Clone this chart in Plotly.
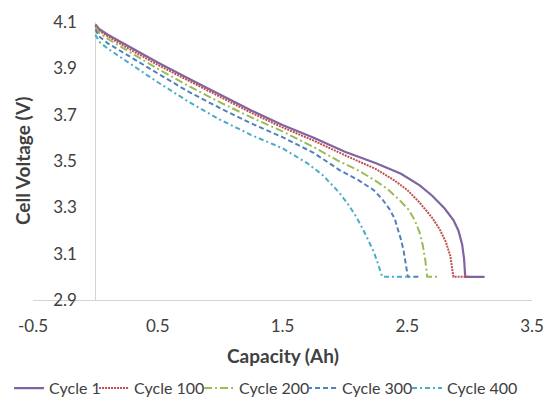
import plotly.graph_objects as go

# ---- data ----
series_names = ["Cycle 1", "Cycle 100", "Cycle 200", "Cycle 300", "Cycle 400"]

cap_c1 = [0, 0.03, 0.1, 0.25, 0.5, 0.75, 1.0, 1.25, 1.5, 1.75, 2.0, 2.25, 2.45, 2.6, 2.7, 2.8, 2.87, 2.91, 2.94, 2.955, 2.965, 3.12]
volt_c1 = [4.09, 4.07, 4.045, 4.0, 3.925, 3.855, 3.785, 3.718, 3.655, 3.6, 3.54, 3.49, 3.445, 3.395, 3.35, 3.295, 3.245, 3.2, 3.14, 3.08, 3.0, 3.0]

cap_c100 = [0, 0.03, 0.1, 0.25, 0.5, 0.75, 1.0, 1.25, 1.5, 1.75, 2.0, 2.25, 2.4, 2.5, 2.6, 2.7, 2.76, 2.81, 2.845, 2.862, 2.87, 2.99]
volt_c100 = [4.085, 4.063, 4.038, 3.99, 3.915, 3.845, 3.775, 3.708, 3.645, 3.588, 3.525, 3.465, 3.415, 3.375, 3.32, 3.255, 3.205, 3.15, 3.09, 3.04, 3.0, 3.0]

cap_c200 = [0, 0.03, 0.1, 0.25, 0.5, 0.75, 1.0, 1.25, 1.5, 1.75, 1.95, 2.1, 2.23, 2.34, 2.44, 2.51, 2.56, 2.6, 2.625, 2.645, 2.66, 2.74]
volt_c200 = [4.078, 4.053, 4.027, 3.978, 3.898, 3.823, 3.753, 3.688, 3.628, 3.56, 3.5, 3.462, 3.42, 3.38, 3.33, 3.29, 3.245, 3.19, 3.135, 3.07, 3.0, 3.0]

cap_c300 = [0, 0.03, 0.1, 0.25, 0.5, 0.75, 1.0, 1.25, 1.5, 1.75, 1.96, 2.1, 2.23, 2.3, 2.36, 2.4, 2.43, 2.45, 2.47, 2.485, 2.505, 2.6]
volt_c300 = [4.068, 4.038, 4.008, 3.958, 3.878, 3.798, 3.728, 3.662, 3.603, 3.535, 3.46, 3.42, 3.375, 3.335, 3.29, 3.25, 3.2, 3.16, 3.115, 3.07, 3.0, 3.0]

cap_c400 = [0, 0.03, 0.1, 0.25, 0.5, 0.75, 1.0, 1.25, 1.5, 1.7, 1.82, 1.9, 1.96, 2.03, 2.09, 2.15, 2.19, 2.23, 2.26, 2.28, 2.3, 2.495]
volt_c400 = [4.045, 4.015, 3.985, 3.93, 3.84, 3.755, 3.678, 3.612, 3.555, 3.49, 3.44, 3.395, 3.36, 3.31, 3.26, 3.2, 3.158, 3.11, 3.065, 3.03, 3.0, 3.0]

x_ticks = [-0.5, 0.5, 1.5, 2.5, 3.5]
y_ticks = [2.9, 3.1, 3.3, 3.5, 3.7, 3.9, 4.1]

# ---- styling ----
caps = [cap_c1, cap_c100, cap_c200, cap_c300, cap_c400]
volts = [volt_c1, volt_c100, volt_c200, volt_c300, volt_c400]
colors = ["#8064A2", "#C0504D", "#9BBB59", "#4F81BD", "#4BACC6"]
dashes = ["solid", "2px,1px", "8px,3px,2px,3px", "5px,3px", "5px,3px,2px,3px"]
widths = [2.2, 2, 2, 2, 2]
legend_w = [40, 60, 58, 60, 80]

FONT = "Lato, Carlito, Calibri, sans-serif"
AXIS_COLOR = "#D4D4D4"

fig = go.Figure()
for name, xs, ys, c, d, w, lw in zip(series_names, caps, volts, colors, dashes, widths, legend_w):
    fig.add_trace(go.Scatter(
        x=xs, y=ys, name=name, mode="lines",
        line=dict(color=c, dash=d, width=w),
        legendwidth=lw,
    ))

fig.update_layout(
    width=547, height=400,
    margin=dict(l=33, r=15, t=22, b=100, autoexpand=False),
    paper_bgcolor="white", plot_bgcolor="white",
    font=dict(family=FONT, size=16, color="#404040"),
    showlegend=True,
    legend=dict(
        orientation="h", x=-0.048, xanchor="left", y=-0.256, yanchor="top",
        font=dict(family=FONT, size=16, color="#404040"),
        itemwidth=30, tracegroupgap=0,
    ),
    xaxis=dict(
        range=[-0.5, 3.5], tickvals=x_ticks, ticktext=[f"{v:.1f}" for v in x_ticks],
        showgrid=False, showline=True, linecolor=AXIS_COLOR, linewidth=1,
        zeroline=True, zerolinecolor=AXIS_COLOR, zerolinewidth=1,
        ticks="", ticklabelstandoff=11, automargin=False,
        tickfont=dict(family=FONT, size=17, color="#404040"),
    ),
    yaxis=dict(
        range=[2.9, 4.1], tickvals=y_ticks, ticktext=[f"{v:.1f}" for v in y_ticks],
        showgrid=False, zeroline=False, showline=False,
        anchor="free", position=0.088,
        ticks="", ticklabelstandoff=0, automargin=False,
        tickfont=dict(family=FONT, size=17, color="#404040"),
    ),
    annotations=[
        dict(text="<b>Capacity (Ah)</b>", xref="paper", yref="paper", x=0.5, y=-0.2,
             xanchor="center", yanchor="middle", showarrow=False,
             font=dict(family=FONT, size=19, color="#404040")),
        dict(text="<b>Cell Voltage (V)</b>", xref="paper", yref="paper", x=-0.022, y=0.5,
             xanchor="center", yanchor="middle", textangle=-90, showarrow=False,
             font=dict(family=FONT, size=19, color="#404040")),
    ],
)

fig.write_html("out.html", config={"displayModeBar": False},
               post_script="document.body.style.margin='0px';")
